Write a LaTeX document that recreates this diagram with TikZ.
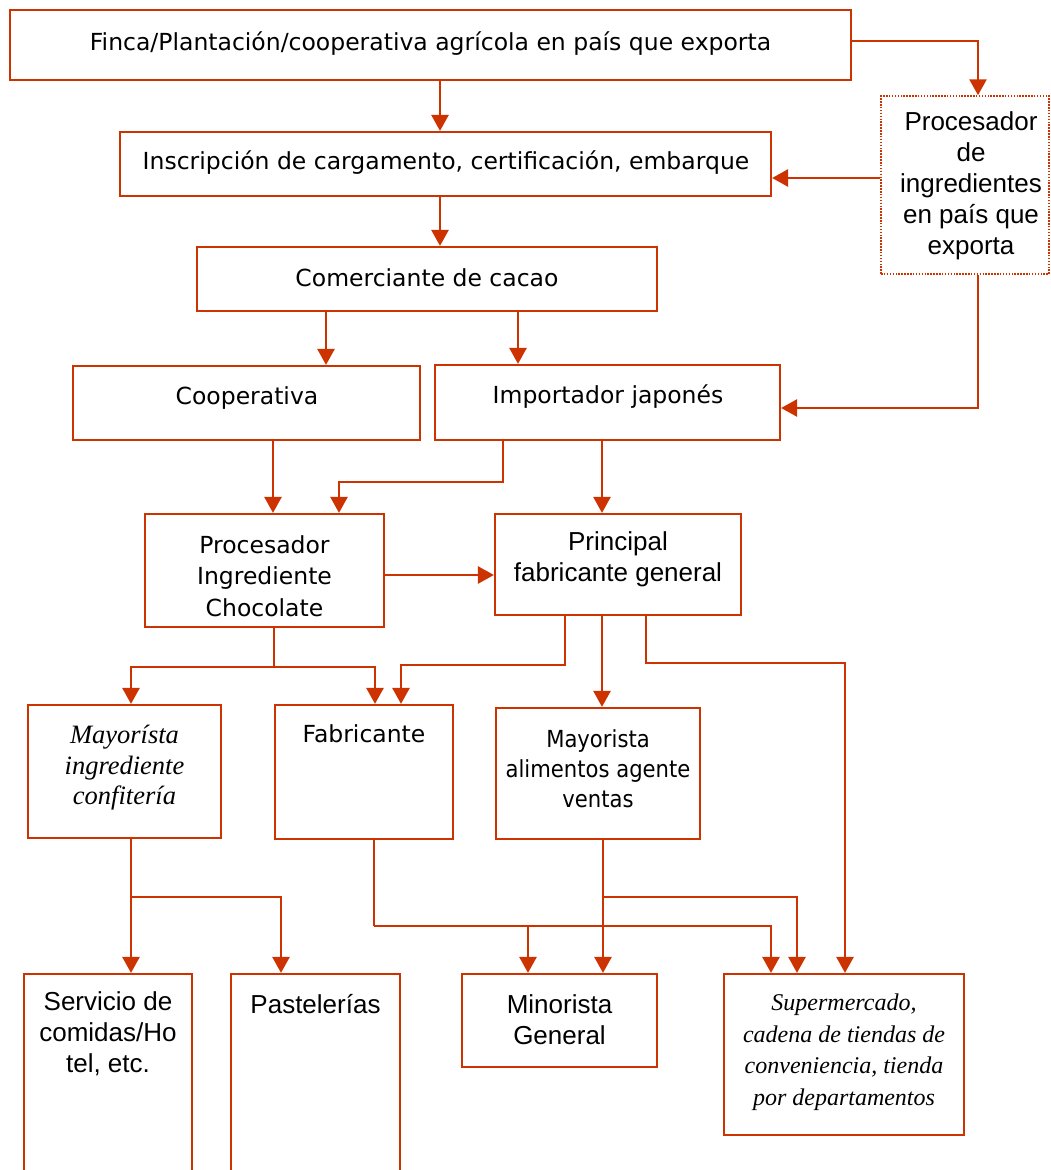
\documentclass[tikz,border=0pt]{standalone}
\usepackage{fontspec}
\setmainfont{Liberation Sans}
\newfontfamily\tahfont{DejaVu Sans}
\newfontfamily\tahcfont[FakeStretch=0.9]{DejaVu Sans}
\newfontfamily\tmsfont{Liberation Serif}
\usetikzlibrary{arrows.meta}
\definecolor{rust}{RGB}{204,51,0}

\tikzset{
  box/.style={draw=rust, line width=2.2pt, inner sep=0pt},
  dotbox/.style={draw=rust, line width=1.5pt, dash pattern=on 1.5pt off 1.4pt, inner sep=0pt},
  ln/.style={draw=rust, line width=2.6pt},
  arr/.style={ln, -{Triangle[length=16pt,width=17pt]}},
  tah/.style={inner sep=0pt, align=center, font=\tahfont\fontsize{23.5}{31.5}\selectfont},
  tahc/.style={inner sep=0pt, align=center, font=\tahcfont\fontsize{23.5}{30}\selectfont},
  ari/.style={inner sep=0pt, align=center, font=\fontsize{26}{31}\selectfont},
  tms/.style={inner sep=0pt, align=center, font=\tmsfont\itshape\fontsize{24}{31.5}\selectfont},
  tmsb/.style={inner sep=0pt, align=center, font=\tmsfont\itshape\fontsize{26.5}{30.5}\selectfont},
}

\begin{document}
\begin{tikzpicture}[x=1pt, y=-1pt]
\useasboundingbox (0,0) rectangle (1050,1170);

% boxes
\node[box, minimum width=841pt, minimum height=70pt] (finca) at (430.5,45) {};
\node[box, minimum width=651pt, minimum height=64pt] (insc) at (445.5,164) {};
\node[dotbox, minimum width=168pt, minimum height=178pt] (procx) at (965,185) {};
\node[box, minimum width=460pt, minimum height=64pt] (com) at (427,279) {};
\node[box, minimum width=347pt, minimum height=74pt] (coop) at (246.5,403) {};
\node[box, minimum width=345pt, minimum height=75pt] (imp) at (607.5,402.5) {};
\node[box, minimum width=239pt, minimum height=113pt] (pic) at (264.5,570.5) {};
\node[box, minimum width=246pt, minimum height=101pt] (pfg) at (618,564.5) {};
\node[box, minimum width=193pt, minimum height=133pt] (may) at (124.5,771.5) {};
\node[box, minimum width=178pt, minimum height=134pt] (fab) at (364,772) {};
\node[box, minimum width=204pt, minimum height=131pt] (mal) at (598,773.5) {};
\node[box, minimum width=168pt, minimum height=201pt] (serv) at (108,1074.5) {};
\node[box, minimum width=169pt, minimum height=201pt] (past) at (315.5,1074.5) {};
\node[box, minimum width=195pt, minimum height=93pt] (min) at (559.5,1020.5) {};
\node[box, minimum width=240pt, minimum height=161pt] (sup) at (844,1054.5) {};

% texts
\node[tah] (finca-t) at (430.5,44) {Finca/Plantación/cooperativa agrícola en país que exporta};
\node[tah] (insc-t) at (446,163) {Inscripción de cargamento, certificación, embarque};
\node[ari] (procx-t) at (971,186) {Procesador\\de\\ingredientes\\en país que\\exporta};
\node[tah] (com-t) at (427,278) {Comerciante de cacao};
\node[tah] (coop-t) at (247,398) {Cooperativa};
\node[tah] (imp-t) at (608,397) {Importador japonés};
\node[tah] (pic-t) at (264.5,576) {Procesador\\Ingrediente\\Chocolate};
\node[ari] (pfg-t) at (618,559) {Principal\\fabricante general};
\node[tmsb] (may-t) at (124.5,768) {Mayorísta\\ingrediente\\confitería};
\node[tah] (fab-t) at (364,734) {Fabricante};
\node[tahc] (mal-t) at (598,769) {Mayorista\\alimentos agente\\ventas};
\node[ari] (serv-t) at (108,1034) {Servicio de\\comidas/Ho\\tel, etc.};
\node[ari] (past-t) at (315.5,1004) {Pastelerías};
\node[ari] (min-t) at (559.5,1020) {Minorista\\General};
\node[tms] (sup-t) at (844,1052) {Supermercado,\\cadena de tiendas de\\conveniencia, tienda\\por departamentos};

% connectors
\draw[arr] ([xshift=9.5pt]finca.south) -- ([xshift=9.5pt]finca.south |- insc.north);
\draw[arr] ([yshift=4pt]finca.east) -| ([xshift=13pt]procx.north);
\draw[arr] ([yshift=7pt]procx.west) -- ([yshift=7pt]procx.west -| insc.east);
\draw[arr] ([xshift=13pt]procx.south) |- ([yshift=-5.5pt]imp.east);
\draw[arr] ([xshift=-5.5pt]insc.south) -- ([xshift=-5.5pt]insc.south |- com.north);
\draw[arr] ([xshift=-101pt]com.south) -- ([xshift=-101pt]com.south |- coop.north);
\draw[arr] ([xshift=91pt]com.south) -- ([xshift=91pt]com.south |- imp.north);
\draw[arr] ([xshift=26.5pt]coop.south) -- ([xshift=26.5pt]coop.south |- pic.north);
\draw[arr] ([xshift=-104.5pt]imp.south) -- ++(0,41) -| ([xshift=74.5pt]pic.north);
\draw[arr] ([xshift=-5.5pt]imp.south) -- ([xshift=-5.5pt]imp.south |- pfg.north);
\draw[arr] ([yshift=-4.5pt]pic.east) -- ([yshift=-4.5pt]pic.east -| pfg.west);

\draw[ln] ([xshift=9.5pt]pic.south) -- ++(0,39) coordinate (picj);
\draw[arr] (picj) -| ([xshift=6.5pt]may.north);
\draw[arr] (picj) -| ([xshift=11pt]fab.north);

\draw[arr] ([xshift=-53pt]pfg.south) -- ++(0,49) -| ([xshift=37pt]fab.north);
\draw[arr] ([xshift=-16pt]pfg.south) -- ([xshift=-16pt]pfg.south |- mal.north);
\draw[arr] ([xshift=28pt]pfg.south) -- ++(0,47) -| ([xshift=1pt]sup.north);

\draw[ln] ([xshift=6.5pt]may.south) -- ++(0,58) coordinate (mayj);
\draw[arr] (mayj) -- (mayj |- serv.north);
\draw[arr] (mayj) -| ([xshift=-34.5pt]past.north);

\draw[ln] ([xshift=10pt]fab.south) -- ++(0,86) coordinate (fabj);
\draw[arr] (fabj) -| ([xshift=-73pt]sup.north);
\draw[arr] ([xshift=-31.5pt]min.north |- fabj) -- ([xshift=-31.5pt]min.north);

\draw[arr] ([xshift=5pt]mal.south) -- ([xshift=5pt]mal.south |- min.north);
\draw[arr] ([xshift=5pt,yshift=-57pt]mal.south) -| ([xshift=-47pt]sup.north);
\end{tikzpicture}
\end{document}
